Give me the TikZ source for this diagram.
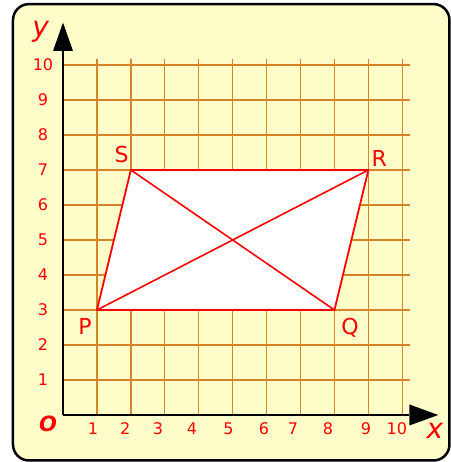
\documentclass[tikz,border=0pt]{standalone}
\usepackage{fontspec}
\setmainfont{DejaVu Sans}
\definecolor{bgyellow}{RGB}{255,254,202}
\definecolor{gridc}{RGB}{214,132,38}
\definecolor{labred}{RGB}{255,0,0}
\begin{document}
\begin{tikzpicture}[x=33.93pt,y=35pt,
  gridline/.style={draw=gridc,line width=1.3pt},
  axisline/.style={draw=black,line width=2.6pt},
  shapeline/.style={draw=labred,line width=1.8pt},
  ticklab/.style={text=labred,inner sep=0pt,font=\fontsize{16}{16}\selectfont},
  ptlab/.style={text=labred,inner sep=0pt,font=\fontsize{22}{22}\selectfont},
  axlab/.style={text=labred,inner sep=0pt,font=\fontsize{28}{28}\selectfont\itshape}]
\useasboundingbox (-1.857,-1.343) rectangle (11.435,11.857);
% frame
\draw[line width=2.5pt,fill=bgyellow,rounded corners=16pt] (-1.474,-1.3) rectangle (11.39,11.74);
% grid
\foreach \i in {1,...,10} \draw[gridline] (\i,0) -- (\i,10.17);
\foreach \j in {1,...,10} \draw[gridline] (0,\j) -- (10.23,\j);
% points
\coordinate (P) at (1,3);
\coordinate (Q) at (8,3);
\coordinate (R) at (9,7);
\coordinate (S) at (2,7);
\filldraw[shapeline,fill=white] (P) -- (Q) -- (R) -- (S) -- cycle;
\draw[shapeline,line width=1.6pt] (P) -- (R);
\draw[shapeline,line width=1.6pt] (S) -- (Q);
% axes
\coordinate (O) at (0,0);
\coordinate (xend) at (10.21,0);
\coordinate (yend) at (0,10.4);
\draw[axisline] (O) -- (xend);
\draw[axisline] (O) -- (yend);
\fill[black] (10.21,0.3) -- (11.06,0) -- (10.21,-0.3) -- cycle;
\fill[black] (-0.295,10.4) -- (0,11.21) -- (0.295,10.4) -- cycle;
% tick labels
\foreach \j in {1,...,10} \node[ticklab] (ty\j) at (-0.59,\j) {\j};
\foreach \p/\n in {0.88/1,1.83/2,2.8/3,3.8/4,4.88/5,5.92/6,6.78/7,7.81/8,8.93/9,9.84/10}
  \node[ticklab] (tx\n) at (\p,-0.4) {\n};
% axis letters
\node[axlab] (ylab) at (-0.66,10.95) {y};
\node[axlab] (xlab) at (10.96,-0.45) {x};
\node[text=labred,inner sep=0pt,font=\fontsize{21}{21}\selectfont\bfseries\itshape] (olab) at (-0.44,-0.24) {O};
% point labels
\node[ptlab] (Slab) at (1.73,7.43) {S};
\node[ptlab] (Plab) at (0.65,2.54) {P};
\node[ptlab] (Rlab) at (9.32,7.33) {R};
\node[ptlab] (Qlab) at (8.46,2.48) {Q};
\end{tikzpicture}
\end{document}
